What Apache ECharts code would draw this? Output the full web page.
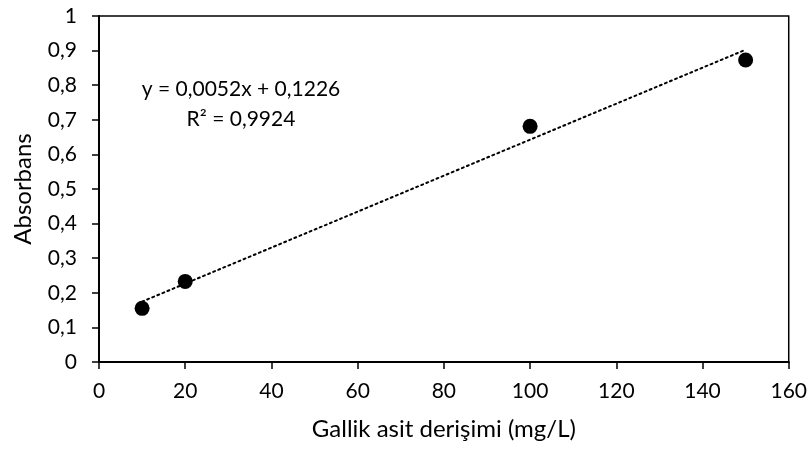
<!DOCTYPE html>
<html>
<head>
<meta charset="utf-8">
<script src="https://cdn.jsdelivr.net/npm/echarts@6/dist/echarts.min.js"></script>
<style>
  html, body { margin: 0; padding: 0; background: #fff; }
  #chart { width: 810px; height: 449px; }
</style>
</head>
<body>
<div id="chart"></div>
<script>
// Calibration data: gallic acid concentration (mg/L) vs absorbance
const concentrations = [10, 20, 100, 150];
const absorbances = [0.155, 0.233, 0.681, 0.873];

// Linear fit y = slope * x + intercept, drawn across the measured range
const slope = 0.0052;
const intercept = 0.1226;
const fitRange = [10, 150];
const equationLines = ['y = 0,0052x + 0,1226', 'R² = 0,9924'];

const xTitle = 'Gallik asit derişimi (mg/L)';
const yTitle = 'Absorbans';

const points = concentrations.map((c, i) => [c, absorbances[i]]);
const fitLine = fitRange.map(x => [x, slope * x + intercept]);

const fmtComma = v => String(Math.round(v * 10) / 10).replace('.', ',');
const FONT = 'Lato';

const chart = echarts.init(document.getElementById('chart'));
chart.setOption({
  animation: false,
  backgroundColor: '#fff',
  textStyle: { fontFamily: FONT },
  grid: {
    left: 99, right: 21, top: 16, bottom: 87,
    show: true, borderColor: '#000', borderWidth: 1.5
  },
  xAxis: {
    type: 'value', min: 0, max: 160, interval: 20,
    name: xTitle, nameLocation: 'middle', nameGap: 55, nameMoveOverlap: false,
    nameTextStyle: { fontSize: 24, color: '#000', fontFamily: FONT },
    axisLine: { show: true, lineStyle: { color: '#000', width: 2 } },
    axisTick: { show: true, inside: false, length: 7, lineStyle: { color: '#000', width: 1.5 } },
    axisLabel: { fontSize: 21, color: '#000', margin: 19, fontFamily: FONT },
    splitLine: { show: false }
  },
  yAxis: {
    type: 'value', min: 0, max: 1, interval: 0.1,
    name: yTitle, nameLocation: 'middle', nameGap: 64, nameMoveOverlap: false,
    nameTextStyle: { fontSize: 24, color: '#000', fontFamily: FONT },
    axisLine: { show: true, lineStyle: { color: '#000', width: 2 } },
    axisTick: { show: true, inside: false, length: 7, lineStyle: { color: '#000', width: 1.5 } },
    axisLabel: { fontSize: 21, color: '#000', margin: 22, fontFamily: FONT, formatter: fmtComma },
    splitLine: { show: false }
  },
  graphic: [
    {
      type: 'text', x: 241, y: 89,
      style: { text: equationLines[0], fontSize: 21, fill: '#000', fontFamily: FONT,
               align: 'center', verticalAlign: 'middle', textAlign: 'center', textVerticalAlign: 'middle' }
    },
    {
      type: 'text', x: 241, y: 119,
      style: { text: equationLines[1], fontSize: 21, fill: '#000', fontFamily: FONT,
               align: 'center', verticalAlign: 'middle', textAlign: 'center', textVerticalAlign: 'middle' }
    }
  ],
  series: [
    {
      type: 'line', data: fitLine, symbol: 'none', z: 2,
      lineStyle: { color: '#000', width: 2, type: [2, 3.5], cap: 'round' }
    },
    {
      type: 'scatter', data: points, symbol: 'circle', symbolSize: 15, z: 3,
      itemStyle: { color: '#000', opacity: 1 }
    }
  ]
});
</script>
</body>
</html>
